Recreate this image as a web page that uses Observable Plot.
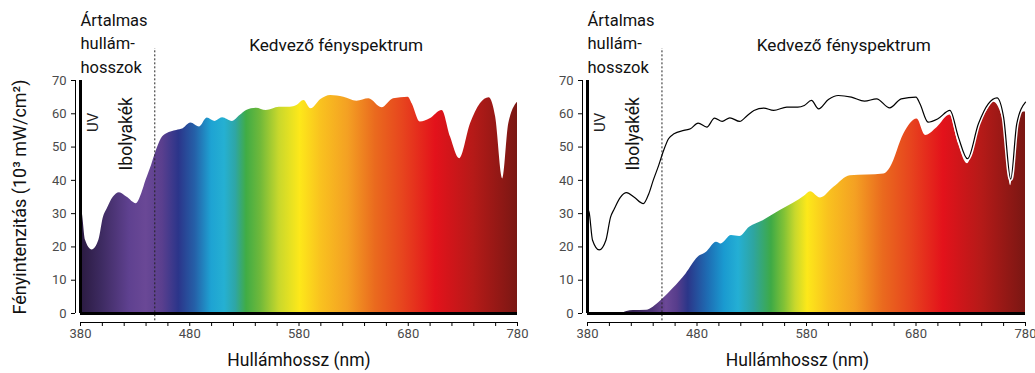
<!DOCTYPE html>
<html><head><meta charset="utf-8">
<script src="https://cdn.jsdelivr.net/npm/d3@7"></script>
<script src="https://cdn.jsdelivr.net/npm/@observablehq/plot@0.6"></script>
<style>
body{margin:0;background:#fff;font-family:Roboto, sans-serif;}
#wrap{display:flex;width:1035px;height:373px;overflow:hidden;}
svg{overflow:visible;}
</style></head><body><div id="wrap"></div>
<script>
// Full light spectrum (black line / left area)
const totalNm = [380,381.5,384.6,390.7,396.8,401,404.4,410,415.7,422.7,431,436,440,445,449,454,459,468,474,481,489,496,503,510,519,526,532,541,550,562,572,578,584.5,591,600,609,621,633,644,656,666.5,680,683.6,691,700,711,718.7,727,737,746,754,760,766.5,772,780];
const totalVal = [31.5,30.4,22,19.1,22,28.9,31.4,34.9,36.3,34.9,33,36,40,44.5,48.5,52.5,54,55,55.5,57.2,56,58.7,57.7,58.8,57.7,59.5,61,61.7,61,62,62,62.5,64,61.5,64.3,65.5,65,63.8,64.5,61.8,64.5,65,63,57.5,58.5,61,53,46.5,57,63,64.8,59,40.4,57,63.5];
// Filtered spectrum (right area)
const filteredNm = [380,410,416,422,434,440,449,458,470,481,488.7,497.8,502,511.5,519,528,540.4,555.6,568,578,583.7,592.8,605,620,635.4,650.6,656.7,668.9,681,688.7,699.4,711,718.7,727,737,746,751,760,766.5,772,778.4,780];
const filteredVal = [0,0,0.6,0.9,1.0,1.9,4.4,7.4,11.9,16.9,18.4,21.4,20.9,23.4,23.1,25.9,27.9,30.9,33.1,35.2,36.6,34.7,37.9,41.4,41.6,41.9,43.9,53.9,58.4,53.5,55.9,59.6,51,45,55.5,61.5,63.5,57.5,38.4,55.5,60.5,60.5];

const xTicks = [380,400,420,440,460,480,500,520,540,560,580,600,620,640,660,680,700,720,740,760,780];
const xTickLabels = [380,480,580,680,780];
const yTicks = [0,10,20,30,40,50,60,70];
const boundaryNm = [448];

// Gradient colour stops (wavelength -> colour)
const leftStopNm = [380,400,425,440,455,470,485,500,512,522,532,545,562,581,600,625,650,675,705,740,780];
const leftStopCol = ["#2a1a40","#3e2b62","#5f4190","#6a4896","#5a3f8e","#2b358a","#2560a8","#1ea3d3","#25b0d2","#2ea6a6","#40ac45","#70b93a","#c9d82c","#fde81a","#f9c21f","#f4a023","#ea6a1e","#e7451e","#e3121b","#b51a18","#7a1713"];
const rightStopNm = [415,440,452,462,472,490,505,518,532,548,560,570,581,600,625,650,675,705,740,780];
const rightStopCol = ["#2e1d48","#4e3478","#6b4896","#573d8c","#2b3689","#1e6cb3","#1a9ad0","#24afd4","#2ea5a0","#3eaa46","#82c236","#c8d82c","#fde81a","#f9c21f","#f4a023","#ea6a1e","#e7451e","#e3121b","#b51a18","#7a1713"];

const harmText = "Ártalmas\nhullám-\nhosszok";
const goodText = "Kedvező fényspektrum";
const uvText = "UV";
const violetText = "Ibolyakék";
const yLabel = "Fényintenzitás (10³ mW/cm²)";
const xLabel = "Hullámhossz (nm)";

const total = totalNm.map((nm, i) => ({nm, v: totalVal[i]}));
const filtered = filteredNm.map((nm, i) => ({nm, v: filteredVal[i]}));

const FONT = "Roboto, sans-serif";

function common(extra) {
  return [
    Plot.ruleX(boundaryNm, {y1: -2.2, y2: 79.6, stroke: "#222", strokeWidth: 1, strokeDasharray: "2,2"}),
    Plot.ruleX([380], {strokeWidth: 3, stroke: "#000"}),
    Plot.ruleY([0], {strokeWidth: 3, stroke: "#000"}),
    Plot.ruleX([380], {dx: -5, strokeWidth: 1, stroke: "#000"}),
    Plot.ruleY([0], {dy: 9, strokeWidth: 1, stroke: "#000"}),
    Plot.axisY({ticks: yTicks, tickSize: 4, dx: -5, tickPadding: 5, fontSize: 13, fill: "#4a4a4a", stroke: "#000", label: null}),
    Plot.axisX({ticks: xTicks, tickSize: 4, dy: 9, tickPadding: 2, fontSize: 13, fill: "#4a4a4a", stroke: "#000", label: null,
      tickFormat: d => xTickLabels.includes(d) ? String(d) : ""}),
    Plot.text([harmText], {frameAnchor: "top-left", textAnchor: "start", lineAnchor: "bottom", dy: -8, lineHeight: 1.42, fontSize: 16.5, fill: "#111"}),
    Plot.text([{nm: 614}], {x: "nm", text: () => goodText, frameAnchor: "top", lineAnchor: "middle", dy: -35, fontSize: 17.2, fill: "#111"}),
    Plot.text([{nm: 392, v: 57.4}], {x: "nm", y: "v", text: () => uvText, rotate: -90, lineAnchor: "middle", fontSize: 15, fill: "#222"}),
    Plot.text([{nm: 421.8, v: 54}], {x: "nm", y: "v", text: () => violetText, rotate: -90, lineAnchor: "middle", fontSize: 17.5, fill: "#111"}),
    ...extra
  ];
}

function addGradient(svg, id, nms, cols) {
  const x = svg.scale("x");
  const ns = "http://www.w3.org/2000/svg";
  const defs = document.createElementNS(ns, "defs");
  const lg = document.createElementNS(ns, "linearGradient");
  lg.setAttribute("id", id);
  lg.setAttribute("gradientUnits", "userSpaceOnUse");
  lg.setAttribute("x1", x.apply(380));
  lg.setAttribute("x2", x.apply(780));
  lg.setAttribute("y1", 0);
  lg.setAttribute("y2", 0);
  nms.forEach((nm, i) => {
    const s = document.createElementNS(ns, "stop");
    s.setAttribute("offset", ((nm - 380) / 400).toFixed(4));
    s.setAttribute("stop-color", cols[i]);
    lg.appendChild(s);
  });
  defs.appendChild(lg);
  svg.insertBefore(defs, svg.firstChild);
}

const left = Plot.plot({
  width: 520, height: 373,
  marginTop: 80, marginBottom: 60, marginLeft: 80, marginRight: 3,
  x: {domain: [380, 780]}, y: {domain: [0, 70]},
  style: {fontFamily: FONT, overflow: "visible", background: "transparent"},
  marks: [
    Plot.areaY(total, {x: "nm", y: "v", fill: "url(#gradL)", curve: "monotone-x"}),
    ...common([
      Plot.text([yLabel], {frameAnchor: "left", textAnchor: "middle", rotate: -90, dx: -60, lineAnchor: "middle", fontSize: 18, fill: "#111"}),
      Plot.text([xLabel], {frameAnchor: "bottom", textAnchor: "middle", dy: 47, lineAnchor: "middle", fontSize: 17.5, fill: "#111"})
    ])
  ]
});
addGradient(left, "gradL", leftStopNm, leftStopCol);

const right = Plot.plot({
  width: 515, height: 373,
  marginTop: 80, marginBottom: 60, marginLeft: 67, marginRight: 10,
  x: {domain: [380, 780]}, y: {domain: [0, 70]},
  style: {fontFamily: FONT, overflow: "visible", background: "transparent"},
  marks: [
    Plot.areaY(filtered, {x: "nm", y: "v", fill: "url(#gradR)", curve: "monotone-x"}),
    Plot.line(total, {x: "nm", y: "v", stroke: "#fff", strokeWidth: 4, curve: "monotone-x"}),
    Plot.line(total, {x: "nm", y: "v", stroke: "#000", strokeWidth: 1.2, curve: "monotone-x"}),
    ...common([
      Plot.text([xLabel], {frameAnchor: "bottom", textAnchor: "middle", dy: 47, dx: -9, lineAnchor: "middle", fontSize: 17.5, fill: "#111"})
    ])
  ]
});
addGradient(right, "gradR", rightStopNm, rightStopCol);

document.getElementById("wrap").append(left, right);
</script>
</body></html>
